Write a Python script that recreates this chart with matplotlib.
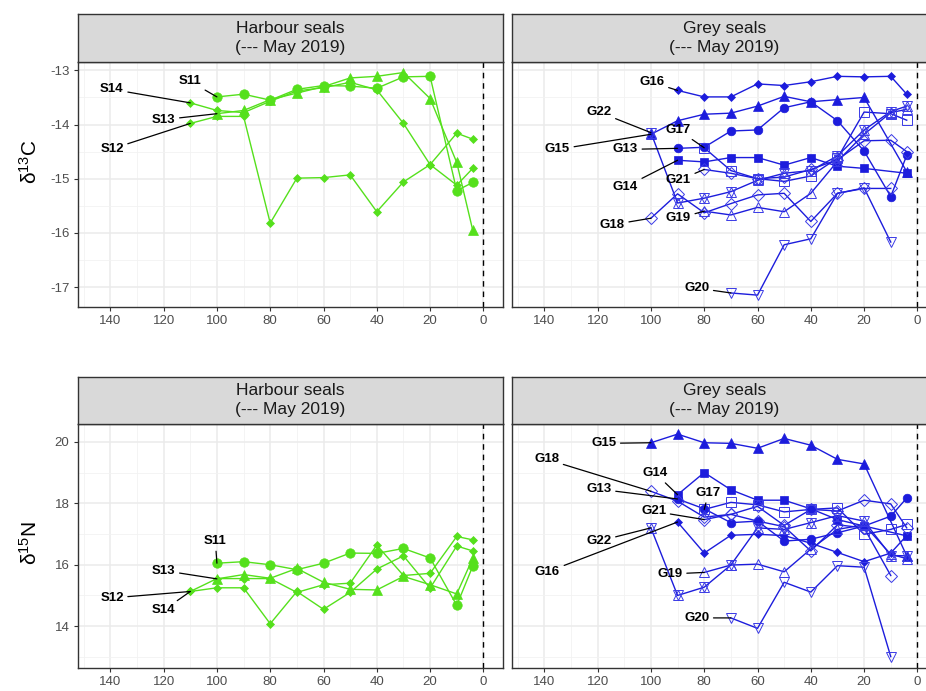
import numpy as np
import matplotlib
matplotlib.use('Agg')
import matplotlib.pyplot as plt
from matplotlib.ticker import FixedLocator

plt.rcParams['font.family'] = ['Liberation Sans', 'DejaVu Sans']
plt.rcParams['axes.unicode_minus'] = False
plt.rcParams['mathtext.fontset'] = 'custom'
plt.rcParams['mathtext.rm'] = 'Liberation Sans'
plt.rcParams['mathtext.it'] = 'Liberation Sans'

nan = np.nan
weeks = [110, 100, 90, 80, 70, 60, 50, 40, 30, 20, 10, 4]

# ---- Harbour seals, d13C ----
S11_c = [nan, -13.49, -13.44, -13.55, -13.35, -13.28, -13.29, -13.33, -13.12, -13.11, -15.22, -15.07]
S12_c = [-13.98, -13.85, -13.85, -15.82, -14.99, -14.98, -14.93, -15.61, -15.06, -14.74, -14.16, -14.27]
S13_c = [nan, -13.80, -13.74, -13.54, -13.42, -13.30, -13.14, -13.11, -13.04, -13.52, -14.70, -15.95]
S14_c = [-13.60, -13.74, -13.78, -13.57, -13.38, -13.32, -13.22, -13.36, -13.98, -14.74, -15.12, -14.81]

# ---- Harbour seals, d15N ----
S11_n = [nan, 16.05, 16.10, 16.00, 15.84, 16.05, 16.38, 16.37, 16.53, 16.22, 14.68, 15.95]
S12_n = [15.13, 15.25, 15.25, 14.08, 15.13, 14.55, 15.10, 15.86, 16.29, 15.24, 16.61, 16.45]
S13_n = [nan, 15.54, 15.68, 15.56, 15.88, 15.43, 15.20, 15.18, 15.62, 15.35, 15.05, 16.21]
S14_n = [15.13, 15.55, 15.55, 15.55, 15.10, 15.35, 15.40, 16.64, 15.65, 15.72, 16.92, 16.81]

# ---- Grey seals, d13C ----
G13_c = [nan, nan, -14.44, -14.42, -14.12, -14.10, -13.69, -13.58, -13.93, -14.49, -15.33, -14.57]
G14_c = [nan, nan, -14.66, -14.69, -14.61, -14.61, -14.75, -14.61, -14.77, -14.81, nan, -14.90]
G15_c = [nan, -14.18, -13.93, -13.81, -13.79, -13.66, -13.48, -13.58, -13.54, -13.50, nan, -14.87]
G16_c = [nan, nan, -13.37, -13.49, -13.49, -13.25, -13.28, -13.21, -13.11, -13.12, -13.11, -13.44]
G17_c = [nan, nan, nan, -14.43, -14.85, -15.00, -15.05, -14.95, -14.62, -13.77, -13.80, -13.92]
G18_c = [nan, -15.73, -15.28, -15.63, -15.46, -15.30, -15.27, -15.79, -15.27, -15.18, -15.18, nan]
G19_c = [nan, nan, nan, -15.60, -15.67, -15.53, -15.61, -15.27, -14.68, -14.18, -13.78, -13.72]
G20_c = [nan, nan, nan, nan, -17.11, -17.15, -16.22, -16.11, -15.27, -15.17, -16.17, nan]
G21_c = [nan, nan, nan, -14.83, -14.90, -15.00, -14.97, -14.83, -14.65, -14.30, -14.29, -14.50]
G22_c = [nan, -14.15, -15.45, -15.36, -15.24, -15.03, -14.90, -14.85, -14.58, -14.10, -13.76, -13.66]

# ---- Grey seals, d15N ----
G13_n = [nan, nan, 18.14, 17.82, 17.37, 17.42, 16.77, 16.83, 17.04, 17.26, 17.58, 18.17]
G14_n = [nan, nan, 18.28, 19.00, 18.44, 18.10, 18.10, 17.82, 17.47, 17.26, nan, 16.94]
G15_n = [nan, 19.97, 20.25, 19.97, 19.95, 19.79, 20.11, 19.89, 19.43, 19.28, nan, 16.29]
G16_n = [nan, nan, 17.39, 16.38, 16.96, 16.99, 16.95, 16.70, 16.40, 16.10, 16.38, 16.95]
G17_n = [nan, nan, nan, 17.80, 18.03, 17.95, 17.72, 17.80, 17.85, 16.99, 17.15, 17.31]
G18_n = [nan, 18.39, 18.07, 17.55, 17.64, 17.90, 17.28, 17.80, 17.75, 18.10, 17.98, 17.20]
G19_n = [nan, nan, nan, 15.75, 15.99, 16.02, 15.77, 16.51, 17.15, 17.30, 16.34, 16.20]
G20_n = [nan, nan, nan, nan, 14.27, 13.93, 15.43, 15.11, 15.97, 15.92, 13.01, nan]
G21_n = [nan, nan, nan, 17.47, 17.64, 17.42, 17.24, 16.45, 17.30, 17.20, 15.65, nan]
G22_n = [nan, 17.20, 15.00, 15.27, 15.99, 17.20, 17.15, 17.37, 17.60, 17.42, 16.30, 16.29]

x_ticks = [0, 20, 40, 60, 80, 100, 120, 140]
c_ticks = [-17, -16, -15, -14, -13]
n_ticks = [14, 16, 18, 20]
strip_titles = ["Harbour seals\n(--- May 2019)", "Grey seals\n(--- May 2019)"]

GREEN = '#55E01C'
BLUE = '#1C1CDC'
BLUE_OPEN = '#3A3AE6'

# marker styles: (markers, size, filled)
styles = {
    'S11': (['o'], 6.8, True), 'S12': (['D'], 4.3, True),
    'S13': (['^'], 6.8, True), 'S14': (['D'], 4.3, True),
    'G13': (['o'], 6.2, True), 'G14': (['s'], 6.0, True),
    'G15': (['^'], 6.8, True), 'G16': (['D'], 4.3, True),
    'G17': (['s'], 6.8, False), 'G18': (['D'], 6.2, False),
    'G19': (['^'], 7.4, False), 'G20': (['v'], 7.4, False),
    'G21': (['D'], 6.2, False), 'G22': (['^', 'v'], 7.4, False),
}

# label text positions (data coords)
lab_tl = {'S14': (139.4, -13.35), 'S11': (110.2, -13.20), 'S13': (120.0, -13.91), 'S12': (139.4, -14.45)}
lab_bl = {'S11': (100.6, 16.77), 'S13': (120.0, 15.81), 'S12': (139.4, 14.92), 'S14': (120.0, 14.52)}
lab_tr = {'G16': (99.6, -13.22), 'G22': (119.5, -13.77), 'G17': (89.7, -14.10), 'G15': (135.1, -14.46),
          'G13': (109.6, -14.46), 'G14': (109.6, -15.15), 'G21': (89.7, -15.03), 'G18': (114.5, -15.85),
          'G19': (89.7, -15.73), 'G20': (82.8, -17.02)}
lab_br = {'G15': (117.7, 19.95), 'G18': (139.1, 19.43), 'G14': (98.4, 18.98), 'G13': (119.5, 18.46),
          'G17': (78.4, 18.34), 'G21': (99.0, 17.74), 'G22': (119.5, 16.77), 'G16': (138.8, 15.77),
          'G19': (92.8, 15.70), 'G20': (82.8, 14.27)}

W, H = 926, 691
fig = plt.figure(figsize=(W / 100, H / 100), dpi=100)

def fr(l, t, w, h):
    return [l / W, 1 - (t + h) / H, w / W, h / H]

PW = 425.0
panels = {
    'tl': fr(77.7, 61.7, PW, 244.8), 'tr': fr(511.7, 61.7, PW, 244.8),
    'bl': fr(77.7, 424.0, PW, 244.0), 'br': fr(511.7, 424.0, PW, 244.0),
}
strips = {
    'tl': fr(77.7, 14.2, PW, 47.5), 'tr': fr(511.7, 14.2, PW, 47.5),
    'bl': fr(77.7, 376.5, PW, 47.5), 'br': fr(511.7, 376.5, PW, 47.5),
}

def setup(ax, ylim, yt, yminor, show_y):
    ax.set_xlim(152.25, -7.25)
    ax.set_ylim(*ylim)
    ax.xaxis.set_major_locator(FixedLocator(x_ticks))
    ax.xaxis.set_minor_locator(FixedLocator([10, 30, 50, 70, 90, 110, 130, 150]))
    ax.yaxis.set_major_locator(FixedLocator(yt))
    ax.yaxis.set_minor_locator(FixedLocator(yminor))
    ax.grid(which='major', color='#EBEBEB', lw=1.1)
    ax.grid(which='minor', color='#F2F2F2', lw=0.6)
    ax.set_axisbelow(True)
    ax.tick_params(which='major', length=3, width=0.8, color='#333333', labelcolor='#4D4D4D',
                   labelsize=9.5, pad=3)
    ax.tick_params(which='minor', length=0)
    if not show_y:
        ax.tick_params(axis='y', which='both', left=False, labelleft=False)
    for s in ax.spines.values():
        s.set_color('#333333')
        s.set_linewidth(1.0)
    ax.axvline(0, color='black', ls=(0, (4, 3.5)), lw=1.0, zorder=1)

def draw(ax, names, data, color, labels):
    for nm, vals in zip(names, data):
        mk, ms, filled = styles[nm]
        v = np.array(vals, dtype=float)
        x = np.array(weeks, dtype=float)
        ok = ~np.isnan(v)
        ax.plot(x[ok], v[ok], color=color, lw=1.0, zorder=3)
        for m in mk:
            if filled:
                ax.plot(x[ok], v[ok], ls='none', marker=m, ms=ms, mfc=color, mec=color, mew=0.5, zorder=4)
            else:
                ec = BLUE_OPEN if color == BLUE else color
                ax.plot(x[ok], v[ok], ls='none', marker=m, ms=ms, mfc='none', mec=ec, mew=0.7, zorder=4)
        i0 = int(np.argmax(ok))
        tx, ty = labels[nm]
        ax.annotate(nm, xy=(x[i0], v[i0]), xytext=(tx, ty), ha='center', va='center',
                    fontsize=9.5, fontweight='bold', color='black', zorder=6,
                    arrowprops=dict(arrowstyle='-', color='black', lw=0.9, shrinkA=1, shrinkB=0))

c_lim = (-17.36, -12.84)
n_lim = (12.64, 20.58)
c_minor = [-17.5, -16.5, -15.5, -14.5, -13.5, -12.5]
n_minor = [13, 15, 17, 19]

ax_tl = fig.add_axes(panels['tl'])
setup(ax_tl, c_lim, c_ticks, c_minor, True)
draw(ax_tl, ['S11', 'S12', 'S13', 'S14'], [S11_c, S12_c, S13_c, S14_c], GREEN, lab_tl)

ax_tr = fig.add_axes(panels['tr'])
setup(ax_tr, c_lim, c_ticks, c_minor, False)
draw(ax_tr, ['G13', 'G14', 'G15', 'G16', 'G17', 'G18', 'G19', 'G20', 'G21', 'G22'],
     [G13_c, G14_c, G15_c, G16_c, G17_c, G18_c, G19_c, G20_c, G21_c, G22_c], BLUE, lab_tr)

ax_bl = fig.add_axes(panels['bl'])
setup(ax_bl, n_lim, n_ticks, n_minor, True)
draw(ax_bl, ['S11', 'S12', 'S13', 'S14'], [S11_n, S12_n, S13_n, S14_n], GREEN, lab_bl)

ax_br = fig.add_axes(panels['br'])
setup(ax_br, n_lim, n_ticks, n_minor, False)
draw(ax_br, ['G13', 'G14', 'G15', 'G16', 'G17', 'G18', 'G19', 'G20', 'G21', 'G22'],
     [G13_n, G14_n, G15_n, G16_n, G17_n, G18_n, G19_n, G20_n, G21_n, G22_n], BLUE, lab_br)

for key, title in zip(['tl', 'tr', 'bl', 'br'], strip_titles * 2):
    sa = fig.add_axes(strips[key])
    sa.set_xticks([]); sa.set_yticks([])
    sa.set_facecolor('#D9D9D9')
    for s in sa.spines.values():
        s.set_color('#333333'); s.set_linewidth(1.0)
    sa.text(0.5, 0.5, title, ha='center', va='center', fontsize=12.5, color='#1A1A1A',
            linespacing=1.3, transform=sa.transAxes)

fig.text(30 / W, 1 - 162 / H, 'δ$^{13}$C', rotation=90, ha='center', va='center', fontsize=15)
fig.text(30 / W, 1 - 543 / H, 'δ$^{15}$N', rotation=90, ha='center', va='center', fontsize=15)

fig.savefig('out.png', dpi=100)
